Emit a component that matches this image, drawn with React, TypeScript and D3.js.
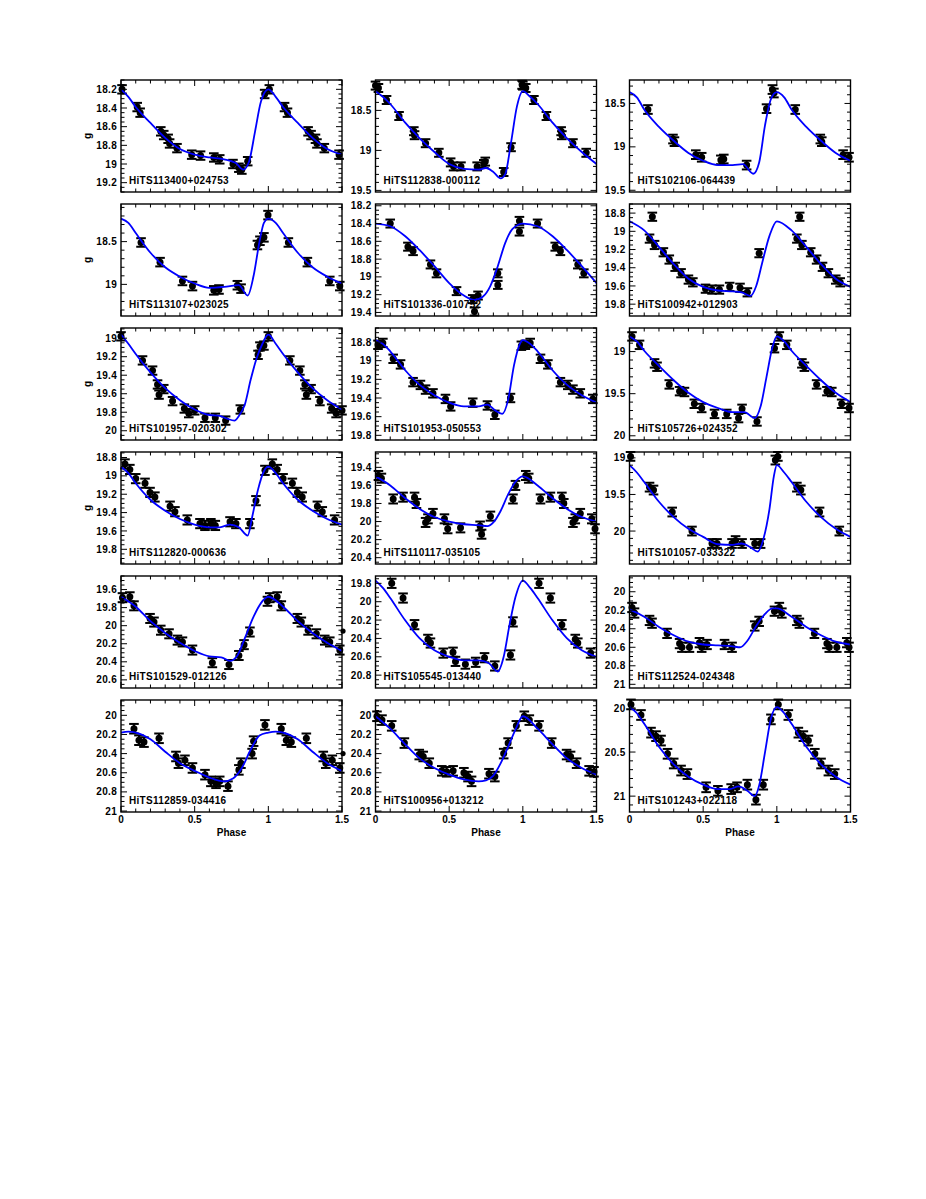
import React from "react";
import * as d3 from "d3";

type Pt = [number, number];

// ---------- data ----------
const NAMES = [
  "HiTS113400+024753", "HiTS112838-000112", "HiTS102106-064439",
  "HiTS113107+023025", "HiTS101336-010752", "HiTS100942+012903",
  "HiTS101957-020302", "HiTS101953-050553", "HiTS105726+024352",
  "HiTS112820-000636", "HiTS110117-035105", "HiTS101057-033322",
  "HiTS101529-012126", "HiTS105545-013440", "HiTS112524-024348",
  "HiTS112859-034416", "HiTS100956+013212", "HiTS101243+022118",
];

// magnitude range shown (top, bottom) per panel
const Y_DOMAINS: [number, number][] = [
  [18.1, 19.3], [18.12, 19.52], [18.23, 19.52],
  [18.06, 19.37], [18.18, 19.44], [18.7, 19.93],
  [18.89, 20.1], [18.65, 19.85], [18.72, 20.05],
  [18.74, 19.96], [19.23, 20.47], [18.92, 20.45],
  [19.45, 20.69], [19.72, 20.94], [19.83, 21.04],
  [19.84, 21.01], [19.84, 21.01], [19.91, 21.18],
];
const Y_STEPS = [0.2, 0.5, 0.5, 0.5, 0.2, 0.2, 0.2, 0.2, 0.5, 0.2, 0.2, 0.5, 0.2, 0.2, 0.2, 0.2, 0.2, 0.5];
const ERRS = [0.045, 0.05, 0.05, 0.05, 0.045, 0.045, 0.045, 0.045, 0.05, 0.05, 0.05, 0.06, 0.05, 0.05, 0.05, 0.05, 0.05, 0.055];

const PHASE_MAJOR = [0, 0.5, 1, 1.5];
const PHASE_LABELS = ["0", "0.5", "1", "1.5"];

// template curves (phase 0..1)
const curve11: Pt[] = [[0, 18.2], [0.05, 18.28], [0.1, 18.39], [0.2, 18.56], [0.3, 18.72], [0.4, 18.84], [0.5, 18.9], [0.6, 18.93], [0.7, 18.95], [0.78, 18.99], [0.83, 19.06], [0.87, 18.97], [0.91, 18.65], [0.95, 18.33], [1, 18.2]];
const curve12: Pt[] = [[0, 18.26], [0.05, 18.33], [0.1, 18.42], [0.2, 18.65], [0.3, 18.85], [0.4, 19.02], [0.5, 19.17], [0.6, 19.23], [0.7, 19.24], [0.75, 19.22], [0.8, 19.27], [0.85, 19.35], [0.88, 19.3], [0.92, 18.9], [0.96, 18.45], [1, 18.26]];
const curve13: Pt[] = [[0, 18.37], [0.05, 18.43], [0.1, 18.57], [0.2, 18.77], [0.3, 18.93], [0.4, 19.07], [0.5, 19.16], [0.6, 19.21], [0.7, 19.21], [0.77, 19.2], [0.84, 19.31], [0.88, 19.18], [0.92, 18.75], [0.96, 18.45], [1, 18.37]];
const curve21: Pt[] = [[0, 18.23], [0.05, 18.28], [0.1, 18.4], [0.2, 18.63], [0.3, 18.8], [0.4, 18.91], [0.5, 18.99], [0.6, 19.04], [0.7, 19.03], [0.8, 19.01], [0.86, 19.13], [0.9, 18.9], [0.94, 18.5], [0.97, 18.28], [1, 18.23]];
const curve22: Pt[] = [[0, 18.4], [0.1, 18.43], [0.2, 18.54], [0.3, 18.7], [0.4, 18.88], [0.5, 19.07], [0.6, 19.21], [0.67, 19.26], [0.73, 19.22], [0.78, 19.1], [0.83, 18.88], [0.88, 18.62], [0.93, 18.46], [1, 18.4]];
const curve23: Pt[] = [[0, 18.89], [0.1, 18.99], [0.2, 19.17], [0.3, 19.36], [0.4, 19.52], [0.5, 19.61], [0.6, 19.65], [0.7, 19.66], [0.76, 19.67], [0.82, 19.71], [0.86, 19.6], [0.9, 19.35], [0.95, 19.05], [1, 18.89]];
const curve31: Pt[] = [[0, 18.96], [0.05, 19.06], [0.1, 19.17], [0.2, 19.37], [0.3, 19.54], [0.4, 19.67], [0.5, 19.77], [0.6, 19.83], [0.67, 19.84], [0.72, 19.87], [0.77, 19.89], [0.8, 19.84], [0.84, 19.72], [0.88, 19.45], [0.92, 19.22], [0.96, 19.06], [1, 18.96]];
const curve32: Pt[] = [[0, 18.78], [0.05, 18.82], [0.1, 18.9], [0.2, 19.1], [0.3, 19.26], [0.4, 19.37], [0.5, 19.45], [0.6, 19.49], [0.7, 19.49], [0.76, 19.47], [0.81, 19.53], [0.86, 19.57], [0.9, 19.42], [0.94, 19.05], [0.98, 18.82], [1, 18.78]];
const curve33: Pt[] = [[0, 18.82], [0.05, 18.88], [0.1, 18.99], [0.2, 19.17], [0.3, 19.34], [0.4, 19.49], [0.5, 19.6], [0.6, 19.67], [0.7, 19.72], [0.78, 19.72], [0.85, 19.79], [0.89, 19.65], [0.93, 19.3], [0.97, 18.95], [1, 18.82]];
const curve41: Pt[] = [[0, 18.9], [0.05, 18.97], [0.1, 19.08], [0.2, 19.26], [0.3, 19.38], [0.4, 19.47], [0.5, 19.53], [0.6, 19.56], [0.67, 19.56], [0.74, 19.53], [0.8, 19.56], [0.86, 19.65], [0.89, 19.45], [0.93, 19.15], [0.97, 18.95], [1, 18.9]];
const curve42: Pt[] = [[0, 19.5], [0.1, 19.6], [0.2, 19.74], [0.3, 19.86], [0.4, 19.95], [0.5, 20.0], [0.6, 20.03], [0.7, 20.04], [0.76, 20.05], [0.8, 20.01], [0.85, 19.88], [0.9, 19.7], [0.95, 19.56], [1, 19.5]];
const curve43: Pt[] = [[0, 19.1], [0.05, 19.2], [0.1, 19.33], [0.2, 19.6], [0.3, 19.81], [0.4, 19.97], [0.5, 20.08], [0.6, 20.18], [0.7, 20.19], [0.76, 20.17], [0.82, 20.22], [0.87, 20.28], [0.91, 20.1], [0.95, 19.7], [0.98, 19.25], [1, 19.1]];
const curve51: Pt[] = [[0, 19.68], [0.1, 19.79], [0.2, 19.95], [0.3, 20.08], [0.4, 20.19], [0.5, 20.28], [0.6, 20.34], [0.68, 20.35], [0.74, 20.39], [0.79, 20.33], [0.84, 20.14], [0.9, 19.9], [0.95, 19.75], [1, 19.68]];
const curve52: Pt[] = [[0, 19.77], [0.05, 19.85], [0.1, 19.96], [0.2, 20.2], [0.3, 20.4], [0.4, 20.53], [0.5, 20.6], [0.6, 20.64], [0.7, 20.64], [0.77, 20.67], [0.83, 20.76], [0.87, 20.6], [0.91, 20.25], [0.95, 19.95], [1, 19.77]];
const curve53: Pt[] = [[0, 20.19], [0.1, 20.27], [0.2, 20.38], [0.3, 20.47], [0.4, 20.54], [0.5, 20.57], [0.6, 20.58], [0.7, 20.59], [0.75, 20.6], [0.8, 20.53], [0.86, 20.37], [0.92, 20.24], [0.97, 20.18], [1, 20.18]];
const curve61: Pt[] = [[0, 20.18], [0.05, 20.17], [0.1, 20.18], [0.2, 20.25], [0.3, 20.38], [0.4, 20.5], [0.5, 20.58], [0.6, 20.65], [0.7, 20.69], [0.76, 20.66], [0.82, 20.55], [0.88, 20.36], [0.94, 20.21], [1, 20.18]];
const curve62: Pt[] = [[0, 20.01], [0.1, 20.14], [0.2, 20.3], [0.3, 20.45], [0.4, 20.55], [0.5, 20.62], [0.6, 20.67], [0.7, 20.69], [0.75, 20.68], [0.8, 20.63], [0.85, 20.5], [0.9, 20.33], [0.95, 20.15], [1, 20.01]];
const curve63: Pt[] = [[0, 19.99], [0.05, 20.06], [0.1, 20.18], [0.2, 20.44], [0.3, 20.64], [0.4, 20.78], [0.5, 20.87], [0.6, 20.92], [0.68, 20.92], [0.74, 20.89], [0.8, 20.94], [0.85, 21.0], [0.88, 20.88], [0.92, 20.5], [0.96, 20.12], [1, 19.99]];

// observations (phase 0..1, g magnitude)
const obs11: Pt[] = [[0.007, 18.2], [0.11, 18.39], [0.13, 18.45], [0.27, 18.65], [0.29, 18.69], [0.32, 18.73], [0.33, 18.78], [0.38, 18.83], [0.48, 18.9], [0.54, 18.91], [0.63, 18.93], [0.67, 18.95], [0.76, 19.0], [0.8, 19.04], [0.82, 19.06], [0.86, 18.97], [0.975, 18.25]];
const obs12: Pt[] = [[0.0, 18.19], [0.02, 18.22], [0.075, 18.37], [0.16, 18.57], [0.26, 18.76], [0.265, 18.81], [0.34, 18.91], [0.43, 19.03], [0.51, 19.15], [0.53, 19.2], [0.58, 19.2], [0.69, 19.2], [0.735, 19.17], [0.745, 19.14], [0.87, 19.27], [0.92, 18.96], [0.995, 18.18]];
const obs13: Pt[] = [[0.125, 18.57], [0.295, 18.91], [0.305, 18.94], [0.45, 19.09], [0.49, 19.12], [0.62, 19.15], [0.64, 19.14], [0.795, 19.21], [0.93, 18.56], [0.97, 18.34], [0.98, 18.38]];
const obs21: Pt[] = [[0.136, 18.51], [0.265, 18.74], [0.417, 18.96], [0.485, 19.02], [0.63, 19.07], [0.665, 19.06], [0.79, 19.01], [0.815, 19.05], [0.926, 18.54], [0.943, 18.49], [0.97, 18.45], [0.998, 18.19]];
const obs22: Pt[] = [[0.1, 18.4], [0.22, 18.66], [0.255, 18.71], [0.373, 18.86], [0.414, 18.96], [0.55, 19.16], [0.66, 19.25], [0.696, 19.21], [0.672, 19.39], [0.83, 19.09], [0.83, 18.96], [0.977, 18.37], [0.977, 18.49]];
const obs23: Pt[] = [[0.155, 18.84], [0.136, 19.08], [0.17, 19.15], [0.23, 19.23], [0.27, 19.31], [0.31, 19.39], [0.35, 19.46], [0.4, 19.53], [0.43, 19.56], [0.516, 19.63], [0.56, 19.64], [0.61, 19.64], [0.68, 19.61], [0.75, 19.62], [0.8, 19.67], [0.88, 19.24]];
const obs31: Pt[] = [[0.0, 18.98], [0.146, 19.24], [0.214, 19.35], [0.248, 19.5], [0.258, 19.61], [0.29, 19.55], [0.35, 19.68], [0.43, 19.76], [0.46, 19.81], [0.5, 19.78], [0.57, 19.86], [0.64, 19.86], [0.71, 19.89], [0.81, 19.77], [0.93, 19.18], [0.943, 19.09], [0.97, 19.08]];
const obs32: Pt[] = [[0.017, 18.83], [0.05, 18.81], [0.12, 18.98], [0.17, 19.04], [0.255, 19.23], [0.305, 19.26], [0.34, 19.31], [0.39, 19.35], [0.475, 19.41], [0.51, 19.49], [0.66, 19.45], [0.76, 19.48], [0.81, 19.58], [0.916, 19.4], [0.99, 18.84]];
const obs33: Pt[] = [[0.017, 18.82], [0.068, 18.92], [0.17, 19.14], [0.187, 19.18], [0.27, 19.39], [0.34, 19.47], [0.373, 19.48], [0.44, 19.62], [0.49, 19.67], [0.577, 19.74], [0.66, 19.74], [0.74, 19.79], [0.764, 19.68], [0.865, 19.83], [0.984, 18.96]];
const obs41: Pt[] = [[0.027, 18.87], [0.06, 18.93], [0.1, 19.03], [0.163, 19.08], [0.197, 19.18], [0.23, 19.23], [0.333, 19.33], [0.366, 19.39], [0.45, 19.48], [0.536, 19.52], [0.57, 19.54], [0.61, 19.52], [0.64, 19.54], [0.74, 19.5], [0.78, 19.52], [0.875, 19.52], [0.916, 19.27], [0.977, 18.94]];
const obs42: Pt[] = [[0.02, 19.49], [0.04, 19.52], [0.12, 19.75], [0.187, 19.73], [0.265, 19.73], [0.278, 19.8], [0.34, 20.01], [0.356, 19.97], [0.39, 19.91], [0.468, 19.97], [0.49, 20.08], [0.577, 20.07], [0.71, 20.05], [0.72, 20.14], [0.78, 19.94], [0.933, 19.75], [0.95, 19.6]];
const obs43: Pt[] = [[0.007, 18.98], [0.136, 19.4], [0.163, 19.44], [0.29, 19.74], [0.424, 20.0], [0.56, 20.17], [0.594, 20.17], [0.696, 20.17], [0.72, 20.13], [0.764, 20.17], [0.85, 20.17], [0.89, 20.17], [0.99, 19.03]];
const obs51: Pt[] = [[0.01, 19.69], [0.06, 19.68], [0.088, 19.78], [0.197, 19.92], [0.224, 19.96], [0.27, 20.05], [0.326, 20.09], [0.383, 20.16], [0.417, 20.18], [0.485, 20.27], [0.62, 20.41], [0.733, 20.43], [0.8, 20.33], [0.835, 20.21], [0.875, 20.07], [0.994, 19.73]];
const obs52: Pt[] = [[0.11, 19.8], [0.187, 19.96], [0.265, 20.25], [0.356, 20.41], [0.373, 20.45], [0.46, 20.56], [0.526, 20.55], [0.543, 20.65], [0.61, 20.68], [0.68, 20.66], [0.74, 20.61], [0.81, 20.7], [0.916, 20.58], [0.933, 20.22]];
const obs53: Pt[] = [[0.017, 20.17], [0.034, 20.23], [0.136, 20.31], [0.153, 20.34], [0.255, 20.45], [0.34, 20.56], [0.356, 20.6], [0.407, 20.6], [0.475, 20.55], [0.49, 20.6], [0.526, 20.57], [0.645, 20.57], [0.696, 20.6], [0.85, 20.37], [0.88, 20.32], [0.984, 20.21]];
const obs61: Pt[] = [[0.088, 20.14], [0.122, 20.26], [0.156, 20.28], [0.258, 20.24], [0.373, 20.43], [0.39, 20.5], [0.434, 20.47], [0.485, 20.55], [0.57, 20.62], [0.61, 20.69], [0.645, 20.71], [0.67, 20.69], [0.726, 20.74], [0.8, 20.57], [0.814, 20.5], [0.89, 20.4], [0.9, 20.27], [0.977, 20.1]];
const obs62: Pt[] = [[0.01, 20.01], [0.044, 20.05], [0.11, 20.11], [0.196, 20.29], [0.297, 20.41], [0.324, 20.43], [0.365, 20.5], [0.45, 20.58], [0.483, 20.59], [0.527, 20.58], [0.6, 20.6], [0.628, 20.64], [0.652, 20.69], [0.77, 20.61], [0.81, 20.64], [0.87, 20.4], [0.9, 20.29], [0.956, 20.11]];
const obs63: Pt[] = [[0.01, 19.96], [0.078, 20.08], [0.146, 20.28], [0.18, 20.32], [0.214, 20.37], [0.258, 20.52], [0.3, 20.63], [0.35, 20.71], [0.393, 20.75], [0.52, 20.9], [0.6, 20.94], [0.69, 20.92], [0.73, 20.9], [0.8, 20.87], [0.858, 21.04], [0.908, 20.87], [0.96, 20.13]];

// stray symbols drawn just past the right frame
const edge51: Pt[] = [[1.507, 20.06]];
const edge61: Pt[] = [[1.507, 20.4]];

const CURVES: Pt[][] = [curve11, curve12, curve13, curve21, curve22, curve23, curve31, curve32, curve33, curve41, curve42, curve43, curve51, curve52, curve53, curve61, curve62, curve63];
const OBS: Pt[][] = [obs11, obs12, obs13, obs21, obs22, obs23, obs31, obs32, obs33, obs41, obs42, obs43, obs51, obs52, obs53, obs61, obs62, obs63];
const EDGE: Record<number, Pt[]> = { 12: edge51, 15: edge61 };

// ---------- layout ----------
const W = 926;
const H = 1199;
const COL_X = [121, 375.5, 629.5];
const ROW_Y = [80, 204, 328, 452, 576, 700];
const PW = 221;
const PH = 112;
const FONT = "'Liberation Sans', Arial, Helvetica, sans-serif";

function fmt(v: number) {
  return String(+v.toFixed(2));
}

function Panel({ i }: { i: number }) {
  const row = Math.floor(i / 3);
  const col = i % 3;
  const x0 = COL_X[col];
  const y0 = ROW_Y[row];
  const x = d3.scaleLinear().domain([0, 1.5]).range([x0, x0 + PW]);
  const [lo, hi] = Y_DOMAINS[i];
  const y = d3.scaleLinear().domain([lo, hi]).range([y0, y0 + PH]);

  const knots = CURVES[i];
  const ext: Pt[] = knots.concat(
    knots.filter((k) => k[0] > 0 && k[0] <= 0.5).map((k) => [k[0] + 1, k[1]] as Pt)
  );
  const line = d3
    .line<Pt>()
    .x((d) => x(d[0]))
    .y((d) => y(d[1]))
    .curve(d3.curveMonotoneX);

  const pts: Pt[] = OBS[i].flatMap((p) => (p[0] <= 0.5 ? [p, [p[0] + 1, p[1]] as Pt] : [p]));
  const err = ERRS[i];

  const step = Y_STEPS[i];
  const minor = step === 0.5 ? 0.1 : 0.05;
  const majors = d3
    .range(Math.ceil(lo / step - 1e-6), Math.floor(hi / step + 1e-6) + 1)
    .map((k) => +(k * step).toFixed(3));
  const minors = d3
    .range(Math.ceil(lo / minor - 1e-6), Math.floor(hi / minor + 1e-6) + 1)
    .map((k) => +(k * minor).toFixed(3))
    .filter((v) => !majors.some((m) => Math.abs(m - v) < 1e-6));
  const xMinor = d3.range(0, 16).map((k) => k / 10).filter((v) => !PHASE_MAJOR.some((m) => Math.abs(m - v) < 1e-6));

  const L = x0;
  const R = x0 + PW;
  const T = y0;
  const B = y0 + PH;
  const bigT = 6;
  const smT = 3.5;
  const cap = 4.8;

  return (
    <g>
      {/* observations */}
      {pts.map((p, k) => {
        const cx = x(p[0]);
        const cy = y(p[1]);
        const ya = y(p[1] - err);
        const yb = y(p[1] + err);
        return (
          <g key={k}>
            <line x1={cx} x2={cx} y1={ya} y2={yb} stroke="#000" strokeWidth={2} />
            <line x1={cx - cap} x2={cx + cap} y1={ya} y2={ya} stroke="#000" strokeWidth={2} />
            <line x1={cx - cap} x2={cx + cap} y1={yb} y2={yb} stroke="#000" strokeWidth={2} />
            <circle cx={cx} cy={cy} r={3.5} fill="#000" />
          </g>
        );
      })}
      {(EDGE[i] || []).map((p, k) => (
        <circle key={"e" + k} cx={x(p[0])} cy={y(p[1])} r={2.6} fill="#000" />
      ))}
      {/* template curve */}
      <path d={line(ext) || ""} fill="none" stroke="#0000ff" strokeWidth={1.8} />
      {/* frame */}
      <rect x={L} y={T} width={PW} height={PH} fill="none" stroke="#000" strokeWidth={1.4} />
      {/* x ticks */}
      {PHASE_MAJOR.map((v) => (
        <g key={"xM" + v}>
          <line x1={x(v)} x2={x(v)} y1={B} y2={B - bigT} stroke="#000" strokeWidth={1} />
          <line x1={x(v)} x2={x(v)} y1={T} y2={T + bigT} stroke="#000" strokeWidth={1} />
        </g>
      ))}
      {xMinor.map((v) => (
        <g key={"xm" + v}>
          <line x1={x(v)} x2={x(v)} y1={B} y2={B - smT} stroke="#000" strokeWidth={1} />
          <line x1={x(v)} x2={x(v)} y1={T} y2={T + smT} stroke="#000" strokeWidth={1} />
        </g>
      ))}
      {/* y ticks */}
      {majors.map((v) => (
        <g key={"yM" + v}>
          <line x1={L} x2={L + bigT} y1={y(v)} y2={y(v)} stroke="#000" strokeWidth={1} />
          <line x1={R} x2={R - bigT} y1={y(v)} y2={y(v)} stroke="#000" strokeWidth={1} />
          <text
            x={L - 4}
            y={y(v)}
            dy="0.36em"
            textAnchor="end"
            fontFamily={FONT}
            fontWeight="bold"
            fontSize={10}
            letterSpacing={0.3}
          >
            {fmt(v)}
          </text>
        </g>
      ))}
      {minors.map((v) => (
        <g key={"ym" + v}>
          <line x1={L} x2={L + smT} y1={y(v)} y2={y(v)} stroke="#000" strokeWidth={1} />
          <line x1={R} x2={R - smT} y1={y(v)} y2={y(v)} stroke="#000" strokeWidth={1} />
        </g>
      ))}
      {/* star name */}
      <text x={L + 8} y={B - 8} fontFamily={FONT} fontWeight="bold" fontSize={10} letterSpacing={0.3}>
        {NAMES[i]}
      </text>
      {/* axis labels */}
      {row === 5 &&
        PHASE_MAJOR.map((v, k) => (
          <text
            key={"xl" + v}
            x={x(v)}
            y={B + 11}
            textAnchor="middle"
            fontFamily={FONT}
            fontWeight="bold"
            fontSize={10}
          >
            {PHASE_LABELS[k]}
          </text>
        ))}
      {row === 5 && (
        <text x={(L + R) / 2} y={B + 24} textAnchor="middle" fontFamily={FONT} fontWeight="bold" fontSize={10}>
          Phase
        </text>
      )}
      {col === 0 && row < 4 && (
        <text
          transform={`translate(${L - 30},${(T + B) / 2}) rotate(-90)`}
          textAnchor="middle"
          fontFamily={FONT}
          fontWeight="bold"
          fontSize={10}
        >
          g
        </text>
      )}
    </g>
  );
}

export default function App() {
  return (
    <svg
      width={W}
      height={H}
      viewBox={`0 0 ${W} ${H}`}
      style={{ position: "absolute", left: 0, top: 0, background: "#fff" }}
    >
      <rect x={0} y={0} width={W} height={H} fill="#fff" />
      {NAMES.map((_, i) => (
        <Panel key={i} i={i} />
      ))}
    </svg>
  );
}
